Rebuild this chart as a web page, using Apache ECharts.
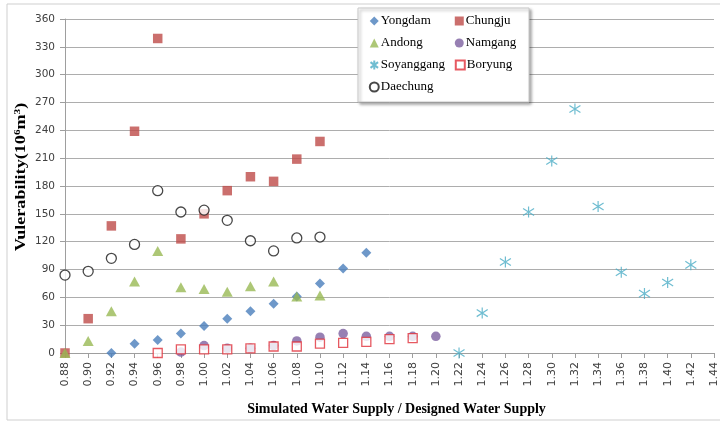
<!DOCTYPE html>
<html>
<head>
<meta charset="utf-8">
<script src="https://cdn.jsdelivr.net/npm/echarts@6/dist/echarts.min.js"></script>
<style>
  html, body { margin: 0; padding: 0; background: #fff; }
  #chart { width: 720px; height: 421px; }
</style>
</head>
<body>
<div id="chart"></div>
<script>
// Supply ratio (x) and vulnerability (10^6 m^3) for each dam
const yongdamX = [0.92, 0.94, 0.96, 0.98, 1.00, 1.02, 1.04, 1.06, 1.08, 1.10, 1.12, 1.14];
const yongdamY = [0, 10, 14, 21, 29, 37, 45, 53, 61, 75, 91, 108];

const chungjuX = [0.88, 0.90, 0.92, 0.94, 0.96, 0.98, 1.00, 1.02, 1.04, 1.06, 1.08, 1.10];
const chungjuY = [0, 37, 137, 239, 339, 123, 150, 175, 190, 185, 209, 228];

const andongX = [0.88, 0.90, 0.92, 0.94, 0.96, 0.98, 1.00, 1.02, 1.04, 1.06, 1.08, 1.10];
const andongY = [0, 13, 45, 77, 110, 71, 69, 66, 72, 77, 61, 62];

const namgangX = [0.98, 1.00, 1.02, 1.04, 1.06, 1.08, 1.10, 1.12, 1.14, 1.16, 1.18, 1.20];
const namgangY = [1, 8, 5, 5, 8, 13, 17, 21, 18, 18, 18, 18];

const soyanggangX = [1.22, 1.24, 1.26, 1.28, 1.30, 1.32, 1.34, 1.36, 1.38, 1.40, 1.42];
const soyanggangY = [0, 43, 98, 152, 207, 263, 158, 87, 64, 76, 95];

const boryungX = [0.96, 0.98, 1.00, 1.02, 1.04, 1.06, 1.08, 1.10, 1.12, 1.14, 1.16, 1.18];
const boryungY = [0, 4, 4, 4, 5, 7, 7, 10, 11, 12, 15, 16];

const daechungX = [0.88, 0.90, 0.92, 0.94, 0.96, 0.98, 1.00, 1.02, 1.04, 1.06, 1.08, 1.10];
const daechungY = [84, 88, 102, 117, 175, 152, 154, 143, 121, 110, 124, 125];

const xMin = 0.88, xMax = 1.44, xStep = 0.02;
const yMin = 0, yMax = 360, yStep = 30;

function pairs(xs, ys) { return xs.map((x, i) => [x, ys[i]]); }

// six-ray star marker, stroked only
const asterisk = 'path://M5,0L5,10M0.8,1.8L9.2,8.2M0.8,8.2L9.2,1.8';

const chart = echarts.init(document.getElementById('chart'), null, { renderer: 'canvas' });

chart.setOption({
  animation: false,
  backgroundColor: '#ffffff',
  grid: { left: 65, right: 6, top: 19, bottom: 68, containLabel: false },
  graphic: [
    { type: 'rect', z: -10, silent: true,
      shape: { x: 7, y: 4, width: 730, height: 416 },
      style: { fill: 'none', stroke: '#CFCFCF', lineWidth: 1 } },
    { type: 'rect', z: 3, silent: true,
      shape: { x: 358, y: 8, width: 171, height: 94 },
      style: { fill: '#fff', stroke: '#C8C8C8', lineWidth: 1,
        shadowBlur: 3, shadowOffsetX: 2, shadowOffsetY: 2, shadowColor: 'rgba(0,0,0,0.35)' } },
    // vertical axis title, stretched along its length
    { type: 'text', z: 5, silent: true,
      x: 21, y: 177, rotation: Math.PI / 2, scaleX: 1.25,
      style: {
        text: 'Vulerability(10{sup|6}m{sup|3})',
        fontFamily: 'Liberation Serif', fontWeight: 'bold', fontSize: 14.5, fill: '#000',
        align: 'center', verticalAlign: 'middle',
        rich: { sup: { fontFamily: 'Liberation Serif', fontWeight: 'bold', fontSize: 9, fill: '#000', verticalAlign: 'top', padding: [0, 0, 6, 0] } }
      } }
  ],
  legend: {
    z: 5,
    left: 368, top: 10, width: 180,
    orient: 'horizontal',
    itemGap: 0,
    itemWidth: 9, itemHeight: 9,
    padding: 0,
    textStyle: { fontFamily: 'Liberation Serif', fontSize: 13, color: '#000', width: 74, lineHeight: 22, padding: [0, 0, 0, -3] },
    data: ['Yongdam', 'Chungju', 'Andong', 'Namgang', 'Soyanggang', 'Boryung', 'Daechung']
  },
  xAxis: {
    type: 'value', min: xMin, max: xMax, interval: xStep,
    name: 'Simulated Water Supply / Designed Water Supply',
    nameLocation: 'middle', nameGap: 49,
    nameTextStyle: { fontFamily: 'Liberation Serif', fontWeight: 'bold', fontSize: 14, color: '#000', padding: [0, 0, 0, 14] },
    axisLine: { show: true, onZero: false, lineStyle: { color: '#9E9E9E', width: 1 } },
    axisTick: { show: true, length: 5, lineStyle: { color: '#9E9E9E' } },
    splitLine: { show: false },
    axisLabel: {
      rotate: 90, margin: 9,
      fontFamily: 'DejaVu Sans', fontSize: 11, color: '#404040',
      formatter: v => v.toFixed(2)
    }
  },
  yAxis: {
    type: 'value', min: yMin, max: yMax, interval: yStep,
    axisLine: { show: true, lineStyle: { color: '#9E9E9E', width: 1 } },
    axisTick: { show: true, length: 5, lineStyle: { color: '#9E9E9E' } },
    splitLine: { show: true, lineStyle: { color: '#ADADAD', width: 1 } },
    axisLabel: { margin: 10, fontFamily: 'DejaVu Sans', fontSize: 10.5, color: '#404040' }
  },
  series: [
    { name: 'Yongdam', type: 'scatter', symbol: 'diamond', symbolSize: 10,
      itemStyle: { color: '#4A7EBB' }, data: pairs(yongdamX, yongdamY) },
    { name: 'Chungju', type: 'scatter', symbol: 'rect', symbolSize: 9.5,
      itemStyle: { color: '#BE4B48' }, data: pairs(chungjuX, chungjuY) },
    { name: 'Andong', type: 'scatter', symbol: 'triangle', symbolSize: [11, 10],
      itemStyle: { color: '#98B954' }, data: pairs(andongX, andongY) },
    { name: 'Namgang', type: 'scatter', symbol: 'circle', symbolSize: 9.5,
      itemStyle: { color: '#7D60A0' }, data: pairs(namgangX, namgangY) },
    { name: 'Soyanggang', type: 'scatter', symbol: asterisk, symbolSize: 11,
      itemStyle: { color: 'none', borderColor: '#4BACC6', borderWidth: 1.2 }, data: pairs(soyanggangX, soyanggangY) },
    { name: 'Boryung', type: 'scatter', symbol: 'rect', symbolSize: 9,
      itemStyle: { color: '#ffffff', borderColor: '#E0303A', borderWidth: 1.3 }, data: pairs(boryungX, boryungY) },
    { name: 'Daechung', type: 'scatter', symbol: 'circle', symbolSize: 10,
      itemStyle: { color: '#ffffff', borderColor: '#1A1A1A', borderWidth: 1.3 }, data: pairs(daechungX, daechungY) }
  ]
});
</script>
</body>
</html>
